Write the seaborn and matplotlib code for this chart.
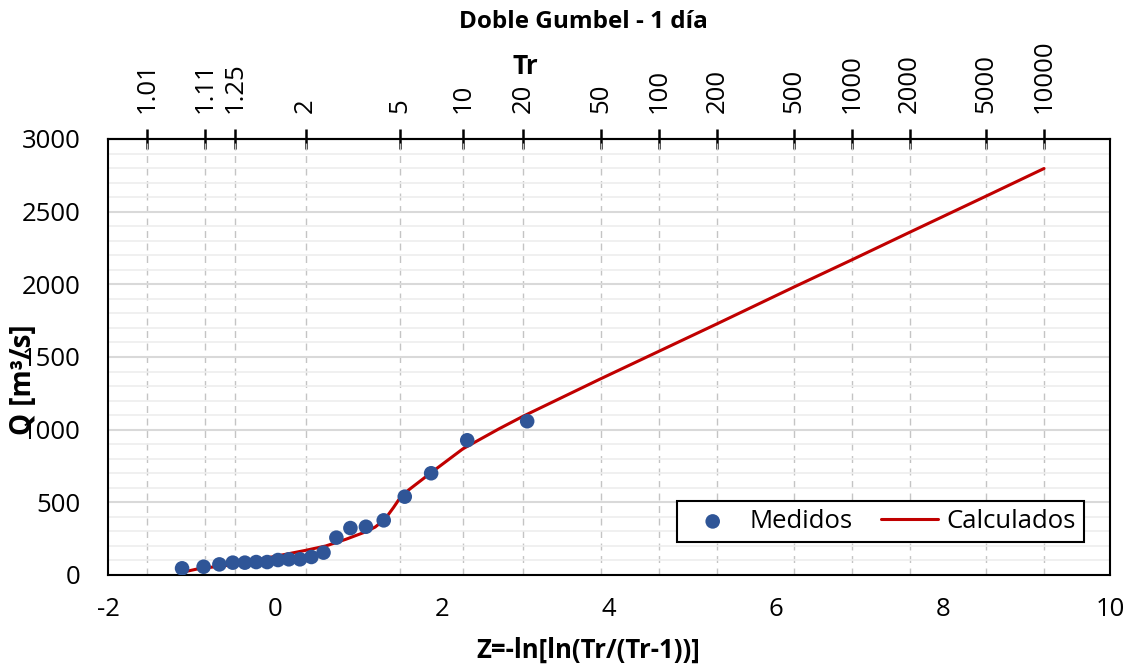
import numpy as np
import pandas as pd
import matplotlib
matplotlib.use("Agg")
import matplotlib.pyplot as plt
from matplotlib.ticker import MultipleLocator
import seaborn as sns

# Measured annual maxima (Gumbel reduced variate vs discharge)
z_medidos = [-1.113, -0.855, -0.666, -0.506, -0.361, -0.225, -0.094, 0.036, 0.166, 0.299,
             0.436, 0.581, 0.735, 0.903, 1.089, 1.302, 1.554, 1.870, 2.302, 3.020]
q_medidos = [46, 57, 73, 85, 85, 89, 89, 103, 108, 108,
             124, 154, 257, 323, 332, 376, 539, 700, 927, 1058]

# Fitted double Gumbel curve
z_calculados = [-1.11, -0.91, -0.51, -0.19, 0.00, 0.37, 0.61, 0.85, 1.09, 1.20, 1.28, 1.35,
                1.42, 1.48, 1.60, 1.86, 2.25, 2.68, 2.97, 3.90, 4.60, 5.30, 6.21, 6.91,
                7.60, 8.52, 9.21]
q_calculados = [19, 44, 70, 108, 128, 170, 200, 246, 298, 330, 367, 410,
                465, 516, 585, 700, 868, 1005, 1092, 1350, 1540, 1730, 1980, 2169,
                2358, 2608, 2797]

# Return periods shown on the secondary axis
tr_values = [1.01, 1.11, 1.25, 2, 5, 10, 20, 50, 100, 200, 500, 1000, 2000, 5000, 10000]
tr_labels = ["1.01", "1.11", "1.25", "2", "5", "10", "20", "50", "100", "200",
             "500", "1000", "2000", "5000", "10000"]

sns.set_theme(style="white")
plt.rcParams["font.family"] = ["Open Sans", "DejaVu Sans"]
plt.rcParams["axes.unicode_minus"] = False
plt.rcParams["text.color"] = "black"

df_med = pd.DataFrame({"z": z_medidos, "Q": q_medidos})
df_calc = pd.DataFrame({"z": z_calculados, "Q": q_calculados})

fig = plt.figure(figsize=(11.33, 6.66), dpi=100)
ax = fig.add_axes([108 / 1133, 1 - 575 / 666, (1110 - 108) / 1133, (575 - 139) / 666])

z_tr = -np.log(np.log(np.array(tr_values) / (np.array(tr_values) - 1)))

ax.set_xlim(-2, 10)
ax.set_ylim(0, 3000)
ax.xaxis.set_major_locator(MultipleLocator(2))
ax.yaxis.set_major_locator(MultipleLocator(500))
ax.yaxis.set_minor_locator(MultipleLocator(100))
ax.set_xticks(z_tr, minor=True)

ax.grid(False)
ax.grid(which="minor", axis="y", color="#eeeeee", linewidth=1.2, zorder=0)
ax.grid(which="major", axis="y", color="#d9d9d9", linewidth=1.5, zorder=0)
ax.grid(which="minor", axis="x", color="#c4c4c4", linewidth=1.0,
        linestyle=(0, (5, 4)), zorder=0)
ax.set_axisbelow(True)

sns.lineplot(data=df_calc, x="z", y="Q", ax=ax, color="#C00000", linewidth=2.2,
             label="Calculados", zorder=3)
sns.scatterplot(data=df_med, x="z", y="Q", ax=ax, color="#2F5597", s=110,
                edgecolor="none", label="Medidos", zorder=4)

for sp in ax.spines.values():
    sp.set_color("black")
    sp.set_linewidth(1.5)

ax.tick_params(axis="both", which="major", direction="in", length=6, width=1.5,
               color="black", labelsize=18.5, labelcolor="black")
ax.tick_params(axis="x", which="major", pad=16)
ax.tick_params(axis="y", which="major", pad=20)
ax.tick_params(axis="both", which="minor", length=0)

ax.set_xlabel("")
ax.set_ylabel("")

# Return period axis on top
sec = ax.secondary_xaxis("top")
sec.set_xticks(z_tr)
sec.set_xticklabels(tr_labels, rotation=90)
sec.tick_params(direction="inout", length=14, width=1.8, color="black",
                labelsize=18.5, labelcolor="black", pad=12)
sec.spines["top"].set_linewidth(1.5)

fig.text(583 / 1133, 1 - 22 / 666, "Doble Gumbel - 1 día", ha="center", va="center",
         fontsize=17.5, fontweight="bold", color="black")
fig.text(525 / 1133, 1 - 66 / 666, "Tr", ha="center", va="center",
         fontsize=19, fontweight="bold", color="black")
fig.text(588 / 1133, 1 - 650 / 666, "Z=-ln[ln(Tr/(Tr-1))]", ha="center", va="center",
         fontsize=18.5, fontweight="bold", color="black")
fig.text(24 / 1133, 1 - 380 / 666, "Q [m³/s]", ha="center", va="center",
         rotation=90, fontsize=20, fontweight="bold", color="black")

handles, labels = ax.get_legend_handles_labels()
order = [labels.index("Medidos"), labels.index("Calculados")]
leg = ax.legend([handles[i] for i in order], [labels[i] for i in order],
                loc="lower right", bbox_to_anchor=(0.974, 0.076), ncol=2,
                frameon=True, fancybox=False, edgecolor="black", fontsize=18.5,
                handlelength=2.2, columnspacing=1.1, handletextpad=0.35,
                borderpad=0.3, borderaxespad=0.0, markerscale=1.0,
                labelcolor="black")
leg.get_frame().set_linewidth(1.5)
leg.get_frame().set_facecolor("white")
leg.get_frame().set_alpha(1)

fig.savefig("out.png", dpi=100, facecolor="white")
